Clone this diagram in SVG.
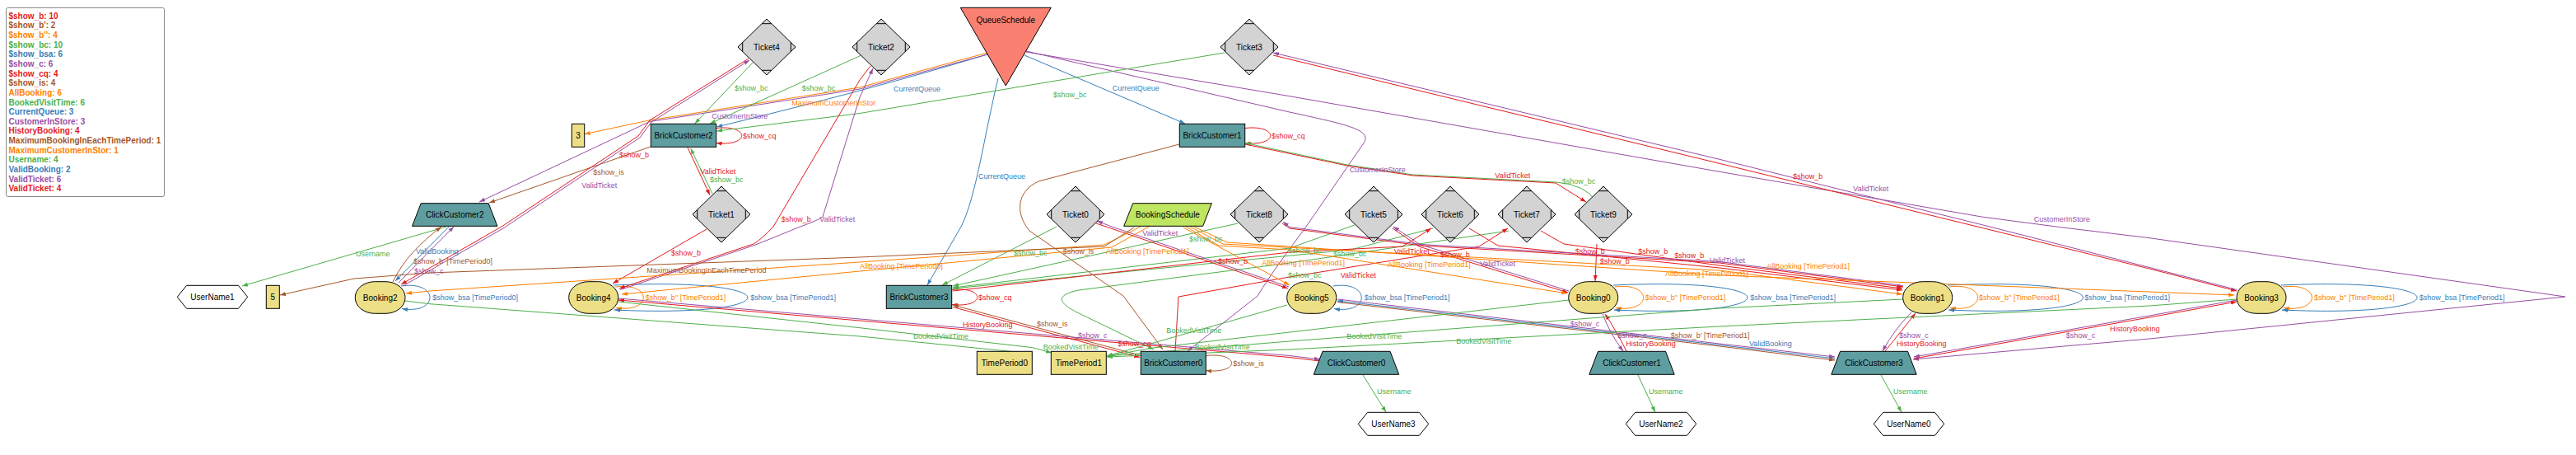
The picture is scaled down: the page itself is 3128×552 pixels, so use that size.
<svg xmlns="http://www.w3.org/2000/svg" width="3128" height="552" viewBox="0 0 3128 552">
<style>
.e{fill:none;stroke-width:1}
.r{stroke:#e41a1c;marker-end:url(#mr)}
.br{stroke:#a65628;marker-end:url(#mbr)}
.o{stroke:#ff7f00;marker-end:url(#mo)}
.g{stroke:#4daf4a;marker-end:url(#mg)}
.b{stroke:#377eb8;marker-end:url(#mb)}
.p{stroke:#984ea3;marker-end:url(#mp)}
text{font-family:"Liberation Sans",Arial,sans-serif}
.l{font-size:9px}
.n{font-size:10px;fill:#000;text-anchor:middle}
.tr{fill:#e41a1c}.tbr{fill:#a65628}.to{fill:#ff7f00}.tg{fill:#4daf4a}.tb{fill:#377eb8}.tp{fill:#984ea3}
.lg{font-size:10px;font-weight:bold}
.tk{fill:#d3d3d3;stroke:#000;stroke-width:1}
.cap{fill:none;stroke:#000;stroke-width:1}
.bc{fill:#5f9ea0;stroke:#000;stroke-width:1}
.kh{fill:#eddf85;stroke:#000;stroke-width:1}
.hx{fill:#fff;stroke:#000;stroke-width:1}
</style>
<defs>
<marker id="mr" markerWidth="7" markerHeight="5" refX="7" refY="2.5" orient="auto" markerUnits="userSpaceOnUse"><path d="M0,0L7,2.5L0,5z" fill="#e41a1c"/></marker>
<marker id="mbr" markerWidth="7" markerHeight="5" refX="7" refY="2.5" orient="auto" markerUnits="userSpaceOnUse"><path d="M0,0L7,2.5L0,5z" fill="#a65628"/></marker>
<marker id="mo" markerWidth="7" markerHeight="5" refX="7" refY="2.5" orient="auto" markerUnits="userSpaceOnUse"><path d="M0,0L7,2.5L0,5z" fill="#ff7f00"/></marker>
<marker id="mg" markerWidth="7" markerHeight="5" refX="7" refY="2.5" orient="auto" markerUnits="userSpaceOnUse"><path d="M0,0L7,2.5L0,5z" fill="#4daf4a"/></marker>
<marker id="mb" markerWidth="7" markerHeight="5" refX="7" refY="2.5" orient="auto" markerUnits="userSpaceOnUse"><path d="M0,0L7,2.5L0,5z" fill="#377eb8"/></marker>
<marker id="mp" markerWidth="7" markerHeight="5" refX="7" refY="2.5" orient="auto" markerUnits="userSpaceOnUse"><path d="M0,0L7,2.5L0,5z" fill="#984ea3"/></marker>
<path id="tkshape" d="M0,-34L35,0L0,34L-35,0Z"/>
</defs>
<rect width="3128" height="552" fill="#fff"/>

<g id="legend">
<rect x="7.5" y="9.5" width="192" height="229" rx="2" fill="#fff" stroke="#888"/>
<text class="lg tr" x="10.5" y="22.8">$show_b: 10</text>
<text class="lg tbr" x="10.5" y="34.4">$show_b': 2</text>
<text class="lg to" x="10.5" y="46.1">$show_b'': 4</text>
<text class="lg tg" x="10.5" y="57.7">$show_bc: 10</text>
<text class="lg tb" x="10.5" y="69.3">$show_bsa: 6</text>
<text class="lg tp" x="10.5" y="81">$show_c: 6</text>
<text class="lg tr" x="10.5" y="92.6">$show_cq: 4</text>
<text class="lg tbr" x="10.5" y="104.2">$show_is: 4</text>
<text class="lg to" x="10.5" y="115.8">AllBooking: 6</text>
<text class="lg tg" x="10.5" y="127.5">BookedVisitTime: 6</text>
<text class="lg tb" x="10.5" y="139.1">CurrentQueue: 3</text>
<text class="lg tp" x="10.5" y="150.7">CustomerInStore: 3</text>
<text class="lg tr" x="10.5" y="162.4">HistoryBooking: 4</text>
<text class="lg tbr" x="10.5" y="174">MaximumBookingInEachTimePeriod: 1</text>
<text class="lg to" x="10.5" y="185.6">MaximumCustomerInStor: 1</text>
<text class="lg tg" x="10.5" y="197.3">Username: 4</text>
<text class="lg tb" x="10.5" y="208.9">ValidBooking: 2</text>
<text class="lg tp" x="10.5" y="220.5">ValidTicket: 6</text>
<text class="lg tr" x="10.5" y="232.2">ValidTicket: 4</text>
</g>

<g id="edges">
<!-- Username -->
<path class="e g" d="M542,275L294,347"/>
<path class="e g" d="M1655,455L1683,500"/>
<path class="e g" d="M1989,455L2010,500"/>
<path class="e g" d="M2284,455L2309,500"/>
<!-- self loops -->
<path class="e r" d="M869.7,155.5C911,151 911,178 869.7,173.5"/>
<path class="e r" d="M1511.7,155.5C1553,151 1553,178 1511.7,173.5"/>
<path class="e r" d="M1155.7,351.5C1197,347 1197,374 1155.7,369.5"/>
<path class="e br" d="M1464.3,431.5C1506,427 1506,454 1464.3,449.5"/>
<path class="e b" d="M487,347C533.5,340 533.5,382 488,374.5"/>
<path class="e o" d="M747,348C792.5,342 792.5,380 748,373.5"/>
<path class="e b" d="M745,346C962,336 962,386 746,376"/>
<path class="e b" d="M1619,347C1664.5,340 1664.5,382 1620,374.5"/>
<path class="e o" d="M1961,348C2007,342 2007,380 1962,373.5"/>
<path class="e b" d="M1959,346C2176,336 2176,386 1960,376"/>
<path class="e o" d="M2367,348C2413,342 2413,380 2368,373.5"/>
<path class="e b" d="M2365,346C2584,336 2584,386 2366,376"/>
<path class="e o" d="M2772,348C2819,342 2819,380 2773,373.5"/>
<path class="e b" d="M2770,346C2990,336 2990,386 2771,376"/>
<!-- QueueSchedule -->
<path class="e b" d="M1199,66Q1060,108 870.3,154"/>
<path class="e b" d="M1244,67L1439,150"/>
<path class="e b" d="M1212,95C1195,165 1185,240 1167,275L1126,346"/>
<path class="e o" d="M1199,64L1044,106L788,146L709.7,162.7"/>
<path class="e p" d="M1199,66L1044,108L789,147.5L582,245"/>
<path class="e p" d="M1246,62L1566,136C1640,152 1668,158 1655,175L1586,275C1560,310 1545,330 1527,359L1442,426"/>
<path class="e p" d="M1246,63L1566,116.7L2088,208.3L2408,263.3L2504.7,276L2610,288.7L3115,360L2610,411L2323,436"/>
<!-- show_bc -->
<path class="e g" d="M914,76L843.7,150"/>
<path class="e g" d="M1046,67L862,150"/>
<path class="e g" d="M1487,64L1044,137.5L870.3,159"/>
<path class="e g" d="M865,235L838.7,180"/>
<path class="e g" d="M1283,275L1144,346"/>
<path class="e g" d="M1503,271L1157,347"/>
<path class="e g" d="M1645,273L1566,301L1157,349"/>
<path class="e g" d="M1740,277L1640,303L1157,350"/>
<path class="e g" d="M1832,280L1566,319L1310,352C1280,358 1285,368 1310,380L1401,424"/>
<path class="e g" d="M1938,244Q1925,224 1890,221L1716,212L1636,200L1512,173.5"/>
<!-- ValidTicket red -->
<path class="e r" d="M835,179L862,236.7"/>
<path class="e r" d="M1157,353L1566,306L1703,299L1738,277"/>
<path class="e r" d="M1427,426L1431,360L1566,336L1796,299L1831,277"/>
<path class="e r" d="M1512,175L1636,201L1716,213L1889,222L1926,245"/>
<!-- BrickCustomer links -->
<path class="e br" d="M1384,431L1157,370"/>
<path class="e r" d="M1157,372.5L1384,433.5"/>
<path class="e br" d="M1432,175L1261,220C1235,232 1232,258 1250,280L1364,359L1412,424"/>
<path class="e br" d="M790,178L594,246"/>
<!-- show_b / ValidTicket purple -->
<path class="e r" d="M909,71L789,146L775,165L609,275L487,345"/>
<path class="e p" d="M489,347L611,277L777,167L791,148L910,73"/>
<path class="e r" d="M858,278L744,344"/>
<path class="e r" d="M1057,80L1044,97L939,275Q925,290 915,296L752,350"/>
<path class="e p" d="M753,351.5L916,297.5Q955,282 969,276Q992,268 999,263L1044,118L1060,83"/>
<path class="e r" d="M1331,271L1349,277L1564,350"/>
<path class="e p" d="M1565,348L1350,275L1332,268"/>
<path class="e r" d="M1691,277L1723,299L1904,355"/>
<path class="e p" d="M1905,353L1724,296.5L1692,275"/>
<path class="e r" d="M1939,296L1937,341"/>
<path class="e r" d="M1784,277L1819,298L2088,325L2310,352"/>
<path class="e r" d="M1871,280L1899,296L2088,322L2310,350"/>
<path class="e r" d="M1557,271L1566,277L1726,298L2088,319L2311,348"/>
<path class="e p" d="M2311,346.5L2088,317.5L1726,296.5L1566,275.5L1558,269"/>
<path class="e r" d="M1546,67L2088,198.3L2401,275L2610,326L2716,353"/>
<path class="e p" d="M2716,351.5L2610,324.5L2416,275L2088,193.3L1546,64"/>
<!-- Booking / ClickCustomer -->
<path class="e b" d="M545,275L480,341"/>
<path class="e br" d="M477,342C490,315 510,295 536,275"/>
<path class="e p" d="M484,343L551,275"/>
<path class="e p" d="M751,362L1044,387L1566,431.5L1603,436"/>
<path class="e r" d="M1603,438L1566,433.5L1044,389L751,364"/>
<path class="e b" d="M2228,435L2088,418.5L1624,365"/>
<path class="e p" d="M1624,363L2088,417L2228,433"/>
<path class="e br" d="M1624,366.5L2088,420L2228,437"/>
<path class="e p" d="M1946,381Q1955,405 1971,426"/>
<path class="e r" d="M1975,426Q1962,400 1949,381"/>
<path class="e p" d="M2321,379Q2300,400 2286,426"/>
<path class="e r" d="M2289,426Q2310,400 2326,380"/>
<path class="e p" d="M2716,364L2610,383L2324,433"/>
<path class="e r" d="M2324,435L2610,385L2716,366"/>
<!-- BookedVisitTime -->
<path class="e g" d="M492,365L522,368.7L1044,408L1254,429"/>
<path class="e g" d="M750.7,366L1044,397.7L1254,421.7L1277,428"/>
<path class="e g" d="M1563,370L1344,432"/>
<path class="e g" d="M1905,364L1566,403L1400,422L1344,432"/>
<path class="e g" d="M2311,363L2088,374L1566,414L1344,432"/>
<path class="e g" d="M2716,363L2610,371L2088,396L1566,424L1344,433"/>
<!-- AllBooking -->
<path class="e o" d="M1385,275L1341,297L1044,318L522,353L493,356"/>
<path class="e o" d="M1395,275L1350,300L1044,329L755,357"/>
<path class="e o" d="M1437,276L1566,346"/>
<path class="e o" d="M1440,275L1480,298L1566,303L1903,356"/>
<path class="e o" d="M1445,275L1485,296L2088,328L2310,357"/>
<path class="e o" d="M1450,275L1490,294L2088,334L2713,358"/>
<!-- MaximumBookingInEachTimePeriod -->
<path class="e br" d="M1377,276L1341,299L1044,312L522,331L430,338L340,358"/>
</g>

<g id="edge-labels" class="l">
<text class="tg" x="432" y="311">Username</text>
<text class="tg" x="1672" y="478">Username</text>
<text class="tg" x="2002" y="478">Username</text>
<text class="tg" x="2299" y="478">Username</text>
<text class="tr" x="902" y="168">$show_cq</text>
<text class="tr" x="1544" y="168">$show_cq</text>
<text class="tr" x="1188" y="364">$show_cq</text>
<text class="tbr" x="1497.3" y="444">$show_is</text>
<text class="tb" x="525.3" y="364">$show_bsa [TimePeriod0]</text>
<text class="to" x="783.7" y="364">$show_b'' [TimePeriod1]</text>
<text class="tb" x="911.3" y="364">$show_bsa [TimePeriod1]</text>
<text class="tb" x="1656.7" y="364">$show_bsa [TimePeriod1]</text>
<text class="to" x="1997.7" y="364">$show_b'' [TimePeriod1]</text>
<text class="tb" x="2125.3" y="364">$show_bsa [TimePeriod1]</text>
<text class="to" x="2403" y="364">$show_b'' [TimePeriod1]</text>
<text class="tb" x="2531.3" y="364">$show_bsa [TimePeriod1]</text>
<text class="to" x="2810" y="364">$show_b'' [TimePeriod1]</text>
<text class="tb" x="2937.7" y="364">$show_bsa [TimePeriod1]</text>
<text class="tb" x="1085" y="110.7">CurrentQueue</text>
<text class="tb" x="1350.7" y="110">CurrentQueue</text>
<text class="tb" x="1188" y="216.7">CurrentQueue</text>
<text class="to" x="961.3" y="128">MaximumCustomerInStor</text>
<text class="tp" x="864.3" y="143.7">CustomerInStore</text>
<text class="tp" x="1638.7" y="209">CustomerInStore</text>
<text class="tp" x="2469.7" y="268.7">CustomerInStore</text>
<text class="tg" x="892" y="109.7">$show_bc</text>
<text class="tg" x="973.7" y="109.7">$show_bc</text>
<text class="tg" x="1279" y="118">$show_bc</text>
<text class="tg" x="862" y="221.3">$show_bc</text>
<text class="tg" x="1231" y="310">$show_bc</text>
<text class="tg" x="1444" y="293">$show_bc</text>
<text class="tg" x="1564" y="307">$show_bc</text>
<text class="tg" x="1619" y="311">$show_bc</text>
<text class="tg" x="1564" y="337">$show_bc</text>
<text class="tg" x="1896.7" y="223">$show_bc</text>
<text class="tr" x="850.3" y="210.7">ValidTicket</text>
<text class="tr" x="1692.7" y="308">ValidTicket</text>
<text class="tr" x="1627.7" y="336.7">ValidTicket</text>
<text class="tr" x="1815.3" y="215.7">ValidTicket</text>
<text class="tbr" x="1259" y="395.7">$show_is</text>
<text class="tr" x="1357.3" y="420">$show_cq</text>
<text class="tbr" x="1290.7" y="308">$show_is</text>
<text class="tbr" x="720.3" y="212">$show_is</text>
<text class="tr" x="752" y="190.7">$show_b</text>
<text class="tp" x="706.3" y="228">ValidTicket</text>
<text class="tr" x="815" y="309.7">$show_b</text>
<text class="tr" x="948.7" y="268.7">$show_b</text>
<text class="tp" x="995.3" y="268.7">ValidTicket</text>
<text class="tr" x="1479" y="320">$show_b</text>
<text class="tp" x="1387.3" y="285.7">ValidTicket</text>
<text class="tr" x="1748.7" y="312.3">$show_b</text>
<text class="tp" x="1797" y="323.3">ValidTicket</text>
<text class="tr" x="1912.7" y="308">$show_b</text>
<text class="tr" x="1989.3" y="308">$show_b</text>
<text class="tr" x="2033.3" y="312.7">$show_b</text>
<text class="tr" x="1942.7" y="320">$show_b</text>
<text class="tp" x="2076" y="319">ValidTicket</text>
<text class="tr" x="2177.3" y="216.7">$show_b</text>
<text class="tp" x="2250.3" y="231.7">ValidTicket</text>
<text class="tb" x="505" y="308">ValidBooking</text>
<text class="tbr" x="502" y="320">$show_b' [TimePeriod0]</text>
<text class="tp" x="503" y="332">$show_c</text>
<text class="tp" x="1309" y="410">$show_c</text>
<text class="tr" x="1169" y="396.7">HistoryBooking</text>
<text class="tb" x="2124" y="420">ValidBooking</text>
<text class="tp" x="1906.7" y="395.7">$show_c</text>
<text class="tbr" x="2028.7" y="410">$show_b' [TimePeriod1]</text>
<text class="tp" x="1964.3" y="410">$show_c</text>
<text class="tr" x="1974.3" y="420">HistoryBooking</text>
<text class="tp" x="2306.3" y="410">$show_c</text>
<text class="tr" x="2303" y="420">HistoryBooking</text>
<text class="tp" x="2508.7" y="410">$show_c</text>
<text class="tr" x="2562" y="401.7">HistoryBooking</text>
<text class="tg" x="1109" y="411">BookedVisitTime</text>
<text class="tg" x="1266.7" y="424">BookedVisitTime</text>
<text class="tg" x="1416.3" y="404">BookedVisitTime</text>
<text class="tg" x="1450.7" y="424">BookedVisitTime</text>
<text class="tg" x="1635.3" y="410.7">BookedVisitTime</text>
<text class="tg" x="1768.3" y="416.7">BookedVisitTime</text>
<text class="to" x="1044" y="325.7">AllBooking [TimePeriod0]</text>
<text class="to" x="1343" y="308">AllBooking [TimePeriod1]</text>
<text class="to" x="1532.3" y="322.3">AllBooking [TimePeriod1]</text>
<text class="to" x="1685" y="324">AllBooking [TimePeriod1]</text>
<text class="to" x="2022" y="335">AllBooking [TimePeriod1]</text>
<text class="to" x="2145.3" y="325.7">AllBooking [TimePeriod1]</text>
<text class="tbr" x="785.3" y="330.7">MaximumBookingInEachTimePeriod</text>
</g>

<g id="QueueSchedule"><polygon points="1166.3,9.3 1276.3,9.3 1221.3,104" fill="#fa8072" stroke="#000"/><text class="n" x="1221.3" y="28">QueueSchedule</text></g>
<g id="BookingSchedule"><polygon points="1375.7,246.7 1471.3,246.7 1460.7,274.3 1364.7,274.3" fill="#bfe660" stroke="#000"/><text class="n" x="1418" y="264">BookingSchedule</text></g>

<g id="Ticket4" transform="translate(931,57)"><use href="#tkshape" class="tk"/><path class="cap" d="M-5.8,-28.3H5.8M-5.8,28.3H5.8M-29.3,-5.5V5.5M29.3,-5.5V5.5"/><text class="n" y="3.5">Ticket4</text></g>
<g id="Ticket2" transform="translate(1070,57)"><use href="#tkshape" class="tk"/><path class="cap" d="M-5.8,-28.3H5.8M-5.8,28.3H5.8M-29.3,-5.5V5.5M29.3,-5.5V5.5"/><text class="n" y="3.5">Ticket2</text></g>
<g id="Ticket3" transform="translate(1517,57)"><use href="#tkshape" class="tk"/><path class="cap" d="M-5.8,-28.3H5.8M-5.8,28.3H5.8M-29.3,-5.5V5.5M29.3,-5.5V5.5"/><text class="n" y="3.5">Ticket3</text></g>
<g id="Ticket1" transform="translate(876,260)"><use href="#tkshape" class="tk"/><path class="cap" d="M-5.8,-28.3H5.8M-5.8,28.3H5.8M-29.3,-5.5V5.5M29.3,-5.5V5.5"/><text class="n" y="3.5">Ticket1</text></g>
<g id="Ticket0" transform="translate(1306,260)"><use href="#tkshape" class="tk"/><path class="cap" d="M-5.8,-28.3H5.8M-5.8,28.3H5.8M-29.3,-5.5V5.5M29.3,-5.5V5.5"/><text class="n" y="3.5">Ticket0</text></g>
<g id="Ticket8" transform="translate(1529,260)"><use href="#tkshape" class="tk"/><path class="cap" d="M-5.8,-28.3H5.8M-5.8,28.3H5.8M-29.3,-5.5V5.5M29.3,-5.5V5.5"/><text class="n" y="3.5">Ticket8</text></g>
<g id="Ticket5" transform="translate(1668,260)"><use href="#tkshape" class="tk"/><path class="cap" d="M-5.8,-28.3H5.8M-5.8,28.3H5.8M-29.3,-5.5V5.5M29.3,-5.5V5.5"/><text class="n" y="3.5">Ticket5</text></g>
<g id="Ticket6" transform="translate(1761,260)"><use href="#tkshape" class="tk"/><path class="cap" d="M-5.8,-28.3H5.8M-5.8,28.3H5.8M-29.3,-5.5V5.5M29.3,-5.5V5.5"/><text class="n" y="3.5">Ticket6</text></g>
<g id="Ticket7" transform="translate(1854,260)"><use href="#tkshape" class="tk"/><path class="cap" d="M-5.8,-28.3H5.8M-5.8,28.3H5.8M-29.3,-5.5V5.5M29.3,-5.5V5.5"/><text class="n" y="3.5">Ticket7</text></g>
<g id="Ticket9" transform="translate(1947,260)"><use href="#tkshape" class="tk"/><path class="cap" d="M-5.8,-28.3H5.8M-5.8,28.3H5.8M-29.3,-5.5V5.5M29.3,-5.5V5.5"/><text class="n" y="3.5">Ticket9</text></g>

<g id="BrickCustomer2"><rect class="bc" x="790.3" y="150.3" width="79.4" height="28"/><text class="n" x="830" y="167.8">BrickCustomer2</text></g>
<g id="BrickCustomer1"><rect class="bc" x="1432.3" y="150.3" width="79.4" height="28"/><text class="n" x="1472" y="167.8">BrickCustomer1</text></g>
<g id="BrickCustomer3"><rect class="bc" x="1076.3" y="346.3" width="79.4" height="28"/><text class="n" x="1116" y="363.8">BrickCustomer3</text></g>
<g id="BrickCustomer0"><rect class="bc" x="1385.3" y="426.3" width="79" height="28"/><text class="n" x="1424.8" y="443.8">BrickCustomer0</text></g>
<g id="TimePeriod0"><rect class="kh" x="1186.3" y="426.3" width="67" height="28"/><text class="n" x="1219.8" y="443.8">TimePeriod0</text></g>
<g id="TimePeriod1"><rect class="kh" x="1276.3" y="426.3" width="67" height="28"/><text class="n" x="1309.8" y="443.8">TimePeriod1</text></g>
<g id="Int3"><rect class="kh" x="694.3" y="150.3" width="15.4" height="28"/><text class="n" x="702" y="167.8">3</text></g>
<g id="Int5"><rect class="kh" x="323.3" y="346.3" width="16" height="28"/><text class="n" x="331.3" y="363.8">5</text></g>

<g id="Booking2"><rect class="kh" x="431.3" y="341.7" width="60.7" height="38.6" rx="24" ry="19"/><text class="n" x="461.7" y="364.5">Booking2</text></g>
<g id="Booking4"><rect class="kh" x="690.7" y="341.7" width="60" height="38.6" rx="24" ry="19"/><text class="n" x="720.7" y="364.5">Booking4</text></g>
<g id="Booking5"><rect class="kh" x="1562.7" y="341.7" width="60" height="38.6" rx="24" ry="19"/><text class="n" x="1592.7" y="364.5">Booking5</text></g>
<g id="Booking0"><rect class="kh" x="1904.7" y="341.7" width="60" height="38.6" rx="24" ry="19"/><text class="n" x="1934.7" y="364.5">Booking0</text></g>
<g id="Booking1"><rect class="kh" x="2310.7" y="341.7" width="60" height="38.6" rx="24" ry="19"/><text class="n" x="2340.7" y="364.5">Booking1</text></g>
<g id="Booking3"><rect class="kh" x="2716" y="341.7" width="60" height="38.6" rx="24" ry="19"/><text class="n" x="2746" y="364.5">Booking3</text></g>

<g id="ClickCustomer2"><polygon class="bc" points="511.2,246.7 593.2,246.7 603.9,274.3 500.5,274.3"/><text class="n" x="552.2" y="264">ClickCustomer2</text></g>
<g id="ClickCustomer0"><polygon class="bc" points="1606,426.3 1688,426.3 1698.7,454.3 1595.3,454.3"/><text class="n" x="1647" y="444">ClickCustomer0</text></g>
<g id="ClickCustomer1"><polygon class="bc" points="1940.5,426.3 2022.5,426.3 2033.2,454.3 1929.8,454.3"/><text class="n" x="1981.5" y="444">ClickCustomer1</text></g>
<g id="ClickCustomer3"><polygon class="bc" points="2234.5,426.3 2316.5,426.3 2327.2,454.3 2223.8,454.3"/><text class="n" x="2275.5" y="444">ClickCustomer3</text></g>

<g id="UserName1"><polygon class="hx" points="215.3,360.3 226.6,346.3 289.4,346.3 300.7,360.3 289.4,374.3 226.6,374.3"/><text class="n" x="258" y="363.8">UserName1</text></g>
<g id="UserName3"><polygon class="hx" points="1649.3,514.3 1660.6,500.3 1723.4,500.3 1734.7,514.3 1723.4,528.3 1660.6,528.3"/><text class="n" x="1692" y="517.8">UserName3</text></g>
<g id="UserName2"><polygon class="hx" points="1974.3,514.3 1985.6,500.3 2048.4,500.3 2059.7,514.3 2048.4,528.3 1985.6,528.3"/><text class="n" x="2017" y="517.8">UserName2</text></g>
<g id="UserName0"><polygon class="hx" points="2275.3,514.3 2286.6,500.3 2349.4,500.3 2360.7,514.3 2349.4,528.3 2286.6,528.3"/><text class="n" x="2318" y="517.8">UserName0</text></g>
</svg>
